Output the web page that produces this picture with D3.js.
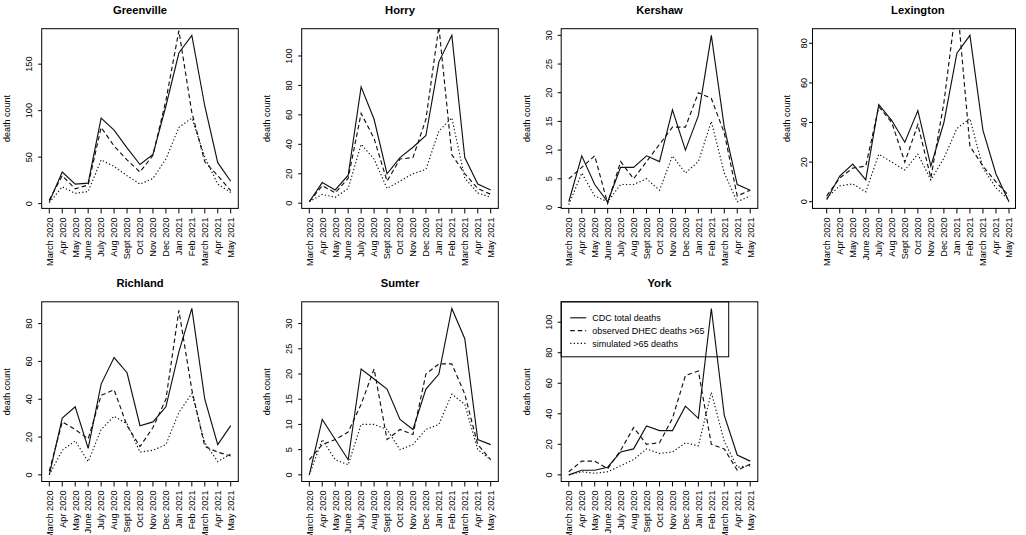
<!DOCTYPE html>
<html>
<head>
<meta charset="utf-8">
<script src="https://cdn.jsdelivr.net/npm/d3@7/dist/d3.min.js"></script>
<style>
  html, body { margin: 0; padding: 0; background: #fff; overflow: hidden; }
  svg { display: block; font-family: "Liberation Sans", Arial, Helvetica, sans-serif; }
</style>
</head>
<body>
<svg id="chart" width="1026" height="535"></svg>
<script>
// ---------- data ----------
const months = ["March 2020","Apr 2020","May 2020","June 2020","July 2020","Aug 2020","Sept 2020",
  "Oct 2020","Nov 2020","Dec 2020","Jan 2021","Feb 2021","March 2021","Apr 2021","May 2021"];
const counties = ["Greenville","Horry","Kershaw","Lexington","Richland","Sumter","York"];
const seriesNames = ["CDC total deaths","observed DHEC deaths >65","simulated >65 deaths"];

const greenvilleCDC  = [2, 34, 21, 22, 92, 79, 60, 42, 53, 105, 162, 181, 105, 44, 24];
const greenvilleDHEC = [4, 30, 16, 20, 82, 62, 47, 34, 52, 111, 186, 98, 45, 30, 14];
const greenvilleSim  = [1, 18, 11, 13, 47, 40, 30, 21, 27, 48, 82, 92, 50, 21, 12];

const horryCDC  = [1, 14, 9, 19, 79, 57, 20, 31, 38, 46, 96, 114, 31, 13, 9];
const horryDHEC = [1, 12, 7, 17, 61, 44, 15, 30, 31, 57, 120, 33, 20, 10, 6];
const horrySim  = [1, 6, 4, 10, 40, 30, 10, 15, 20, 23, 49, 58, 17, 7, 4];

const kershawCDC  = [1, 9, 4, 1, 7, 7, 9, 8, 17, 10, 16, 30, 14, 4, 3];
const kershawDHEC = [5, 7, 9, 0.7, 8, 5, 8, 11, 14, 14, 20, 19, 13, 2, 3];
const kershawSim  = [0.5, 6, 2, 1, 4, 4, 5, 3, 9, 6, 8, 15, 6, 1, 2];

const lexingtonCDC  = [1, 13, 19, 11, 49, 41, 30, 46, 18, 40, 75, 84, 36, 14, 0];
const lexingtonDHEC = [3, 12, 17, 18, 48, 40, 20, 39, 12, 50, 102, 28, 18, 10, 3];
const lexingtonSim  = [2, 8, 9, 5, 24, 20, 16, 24, 11, 22, 37, 42, 17, 7, 1];

const richlandCDC  = [0, 30, 36, 14, 48, 62, 54, 26, 28, 36, 65, 88, 40, 16, 26];
const richlandDHEC = [2, 28, 24, 19, 42, 45, 26, 15, 25, 40, 87, 45, 15, 12, 10];
const richlandSim  = [0, 13, 18, 7, 24, 31, 27, 12, 13, 16, 33, 43, 17, 7, 11];

const sumterCDC  = [0, 11, 7, 3, 21, 19, 17, 11, 9, 17, 20, 33, 27, 7, 6];
const sumterDHEC = [3, 6, 7, 8.5, 14, 21, 7, 9, 8, 20, 22, 22, 16, 6, 3];
const sumterSim  = [0, 7, 3, 2, 10, 10, 9, 5, 6, 9, 10, 16, 14, 5, 3];

const yorkCDC  = [0, 3, 3, 5, 15, 17, 32, 29, 29, 45, 37, 109, 39, 13, 9];
const yorkDHEC = [2, 9, 9, 4, 16, 31, 20, 21, 37, 65, 68, 20, 17, 3, 7];
const yorkSim  = [0, 2, 1, 2, 6, 10, 17, 14, 15, 21, 19, 54, 22, 5, 6];

const countySeries = [
  [greenvilleCDC, greenvilleDHEC, greenvilleSim],
  [horryCDC, horryDHEC, horrySim],
  [kershawCDC, kershawDHEC, kershawSim],
  [lexingtonCDC, lexingtonDHEC, lexingtonSim],
  [richlandCDC, richlandDHEC, richlandSim],
  [sumterCDC, sumterDHEC, sumterSim],
  [yorkCDC, yorkDHEC, yorkSim]
];

// ---------- layout ----------
const colLeft = [41.7, 301.7, 561.2, 812.5];
const rowTop = [28.7, 301.8];
const boxW = 196.6, boxH = 179.7;
const dashStyles = [null, "4.5,3", "1.3,2.2"];
const FONT_TICK = 9.2;

const svg = d3.select("#chart");

counties.forEach((name, i) => {
  const col = i % 4, row = Math.floor(i / 4);
  let x0 = colLeft[col], x1 = x0 + boxW;
  let tickL = x0 + 7.6, tickR = x1 - 7.6;
  let yLabOff = 9.4, yTitleOff = 31.7;
  if (name === "Lexington") {   // this panel is laid out slightly differently in the source
    x1 = 1015.5; tickL = 826.7; tickR = 1009;
    yLabOff = 5.2; yTitleOff = 22.5;
  }
  const y0 = rowTop[row], y1 = y0 + boxH;

  const series = countySeries[i];
  const cdc = series[0];
  const lo = d3.min(cdc), hi = d3.max(cdc);
  const pad = (hi - lo) * 0.04;

  const x = d3.scalePoint().domain(months).range([tickL, tickR]);
  const y = d3.scaleLinear().domain([lo - pad, hi + pad]).range([y1, y0]);
  const step = d3.tickStep(lo, hi, 5);
  const yTicks = d3.range(Math.ceil((lo - pad) / step) * step, hi + pad + 1e-9, step);

  const g = svg.append("g");
  const clipId = "clip" + i;
  svg.append("clipPath").attr("id", clipId)
    .append("rect").attr("x", x0).attr("y", y0).attr("width", x1 - x0).attr("height", y1 - y0);

  // lines
  const line = d3.line().x((d, k) => x(months[k])).y(d => y(d));
  series.forEach((vals, s) => {
    g.append("path")
      .datum(vals)
      .attr("clip-path", `url(#${clipId})`)
      .attr("d", line)
      .attr("fill", "none")
      .attr("stroke", "#111")
      .attr("stroke-width", 1.15)
      .attr("stroke-dasharray", dashStyles[s]);
  });

  // box
  g.append("rect").attr("x", x0).attr("y", y0).attr("width", x1 - x0).attr("height", y1 - y0)
    .attr("fill", "none").attr("stroke", "#000").attr("stroke-width", 1);

  // x axis ticks
  g.selectAll(".xt").data(months).enter().append("line")
    .attr("x1", d => x(d)).attr("x2", d => x(d))
    .attr("y1", y1).attr("y2", y1 + 5)
    .attr("stroke", "#000").attr("stroke-width", 1);
  g.selectAll(".xl").data(months).enter().append("text")
    .attr("transform", d => `translate(${x(d)},${y1 + 9}) rotate(-90)`)
    .attr("text-anchor", "end")
    .attr("dy", "0.36em")
    .attr("font-size", FONT_TICK)
    .attr("fill", "#000")
    .text(d => d);

  // y axis ticks
  g.selectAll(".yt").data(yTicks).enter().append("line")
    .attr("x1", x0 - 3.5).attr("x2", x0)
    .attr("y1", d => y(d)).attr("y2", d => y(d))
    .attr("stroke", "#000").attr("stroke-width", 1);
  g.selectAll(".yl").data(yTicks).enter().append("text")
    .attr("transform", d => `translate(${x0 - yLabOff},${y(d)}) rotate(-90)`)
    .attr("text-anchor", "middle")
    .attr("font-size", FONT_TICK)
    .attr("fill", "#000")
    .text(d => d3.format("d")(d));

  // y title
  g.append("text")
    .attr("transform", `translate(${x0 - yTitleOff},${(y0 + y1) / 2}) rotate(-90)`)
    .attr("text-anchor", "middle")
    .attr("font-size", 9)
    .attr("fill", "#000")
    .text("death count");

  // panel title
  g.append("text")
    .attr("x", (tickL + tickR) / 2).attr("y", y0 - 14.5)
    .attr("text-anchor", "middle")
    .attr("font-size", 11.2)
    .attr("font-weight", "bold")
    .attr("fill", "#000")
    .text(name);

  // legend in York panel
  if (name === "York") {
    const lg = g.append("g");
    lg.append("rect").attr("x", x0).attr("y", y0).attr("width", 728.7 - x0).attr("height", 55)
      .attr("fill", "none").attr("stroke", "#000").attr("stroke-width", 1);
    seriesNames.forEach((s, k) => {
      const ly = y0 + 16 + k * 12.8;
      lg.append("line").attr("x1", x0 + 9).attr("x2", x0 + 25).attr("y1", ly).attr("y2", ly)
        .attr("stroke", "#111").attr("stroke-width", 1.15)
        .attr("stroke-dasharray", dashStyles[k]);
      lg.append("text").attr("x", x0 + 31).attr("y", ly).attr("dy", "0.35em")
        .attr("font-size", 9).attr("fill", "#000").text(s);
    });
  }
});
</script>
</body>
</html>
